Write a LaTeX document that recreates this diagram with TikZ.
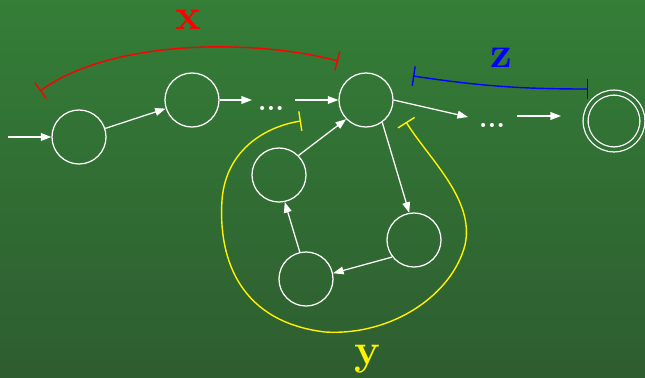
\documentclass[tikz,border=0pt]{standalone}
\usepackage{tikz}
\usetikzlibrary{positioning,arrows.meta}
\definecolor{bgtop}{HTML}{347E37}
\definecolor{bgbot}{HTML}{2E5D30}
\definecolor{bgmid}{HTML}{327236}

\begin{document}
\begin{tikzpicture}[x=0.025cm, y=-0.025cm,
    state/.style={circle,draw=white,line width=0.9pt,minimum size=1.35cm,inner sep=0pt},
    accept/.style={circle,draw=white,line width=0.9pt,double=bgmid,double distance=2.65pt,minimum size=1.42cm,inner sep=0pt},
    edge/.style={white,line width=0.9pt,-{Triangle[length=7.5pt,width=5.5pt]}},
    span/.style={line width=1pt,{Bar[width=14pt]}-{Bar[width=14pt]}},
    lbl/.style={anchor=base,inner sep=0pt,font=\fontsize{31}{31}\selectfont\bfseries},
    dots/.style={text=white,inner sep=0pt,font=\fontsize{20}{20}\selectfont\bfseries}]
    \useasboundingbox (0,0) rectangle (645,377);
    \shade[top color=bgtop, bottom color=bgbot] (0,0) rectangle (645,377);

    % main path
    \node (q1) [state] at (79,137) {};
    \node (q2) [state] at (192,100) {};
    \node (d1) [dots] at (271,108) {...};
    \node (q3) [state] at (366,100) {};
    \node (d2) [dots] at (492,125) {...};
    \node (qf) [accept] at (614,121) {};
    % loop
    \node (q4) [state] at (279,175) {};
    \node (q5) [state] at (414,240) {};
    \node (q6) [state] at (306,279) {};

    \coordinate (in) at (8,137);
    \coordinate (e1) at (252,100);
    \coordinate (s1) at (295,100);
    \coordinate (e2) at (468,117);
    \coordinate (s2) at (517,116);
    \coordinate (e3) at (561,116);

    \draw[edge] (in) -- (q1);
    \draw[edge] (q1) -- (q2);
    \draw[edge] (q2) -- (e1);
    \draw[edge] (s1) -- (q3);
    \draw[edge] (q3.east) -- (e2);
    \draw[edge] (s2) -- (e3);
    \draw[edge] (q3.-54) -- (q5.100);
    \draw[edge] (q5.218) -- (q6.12);
    \draw[edge] (q6.103) -- (q4.-78);
    \draw[edge] (q4.45) -- (q3.224);

    % x, y, z
    \draw[span,red] (40,91) .. controls (110,40) and (250,38) .. (338,61);
    \draw[span,blue] (413,76) .. controls (480,86) and (520,89) .. (588,89);
    \draw[span,yellow] (301,121) .. controls (268,126) and (226,148) .. (222,200)
        .. controls (218,262) and (242,322) .. (325,332)
        .. controls (392,336) and (452,295) .. (465,245)
        .. controls (475,200) and (430,160) .. (406,122);
    \node (lx) [lbl,text=red] at (188,29) {x};
    \node (lz) [lbl,text=blue] at (501,67) {z};
    \node (ly) [lbl,text=yellow] at (367,364) {y};
\end{tikzpicture}
\end{document}
